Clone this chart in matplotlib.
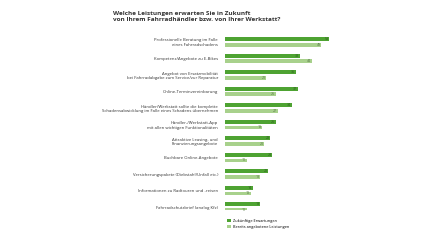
import matplotlib
matplotlib.use("Agg")
import matplotlib.pyplot as plt
import numpy as np

plt.rcParams["font.family"] = ["Open Sans", "DejaVu Sans"]

title = ("Welche Leistungen erwarten Sie in Zukunft\n"
         "von Ihrem Fahrradhändler bzw. von Ihrer Werkstatt?")

categories = [
    "Professionelle Beratung im Falle\neines Fahrradschadens",
    "Kompetenz/Angebote zu E-Bikes",
    "Angebot von Ersatzmobilität\nbei Fahrradabgabe zum Service/zur Reparatur",
    "Online-Terminvereinbarung",
    "Händler/Werkstatt sollte die komplette\nSchadensabwicklung im Falle eines Schadens übernehmen",
    "Händler-/Werkstatt-App\nmit allen wichtigen Funktionalitäten",
    "Attraktive Leasing- und\nFinanzierungsangebote",
    "Buchbare Online-Angebote",
    "Versicherungspakete (Diebstahl/Unfall etc.)",
    "Informationen zu Radtouren und -reisen",
    "Fahrradschutzbrief (analog Kfz)",
]
future = [53, 38, 36, 37, 34, 26, 23, 24, 22, 14, 18]
current = [49, 44, 21, 26, 27, 19, 20, 11, 18, 13, 11]
series_labels = ["Zukünftige Erwartungen", "Bereits angebotene Leistungen"]

DARK = "#4ea332"
LIGHT = "#a8d18c"

fig = plt.figure(figsize=(4.3, 2.41), dpi=100)
ax = fig.add_axes([225 / 430, 1 - 210 / 241, 120 / 430, 177 / 241])

y = np.arange(len(categories))
off = 0.18
h = 0.24
ax.barh(y - off, future, height=h, color=DARK, label=series_labels[0])
ax.barh(y + off, current, height=h, color=LIGHT, label=series_labels[1])

# Werte am Balkenende
for yi, v in zip(y, future):
    ax.text(v - 0.3, yi - off, str(v), ha="right", va="center",
            fontsize=2.6, color="#2f5f20")
for yi, v in zip(y, current):
    ax.text(v - 0.3, yi + off, str(v), ha="right", va="center",
            fontsize=2.6, color="#5a7a4a")

ax.set_xlim(0, 61)
ax.set_ylim(10.18, -0.545)
ax.set_yticks(y)
ax.set_yticklabels(categories, fontsize=3.1, color="#333333", ha="right")
ax.tick_params(axis="y", length=0, pad=5)
ax.set_xticks([])
for s in ax.spines.values():
    s.set_visible(False)

fig.text(113 / 430, 1 - 11 / 241, title, fontsize=4.6, fontweight="bold",
         color="#333333", va="top", ha="left", linespacing=1.3)

ax.legend(loc="upper left", bbox_to_anchor=(-0.01, -0.03), frameon=False,
          fontsize=2.8, handlelength=0.9, handleheight=0.9,
          labelspacing=0.6, handletextpad=0.5)

fig.savefig("out.png", dpi=100)
